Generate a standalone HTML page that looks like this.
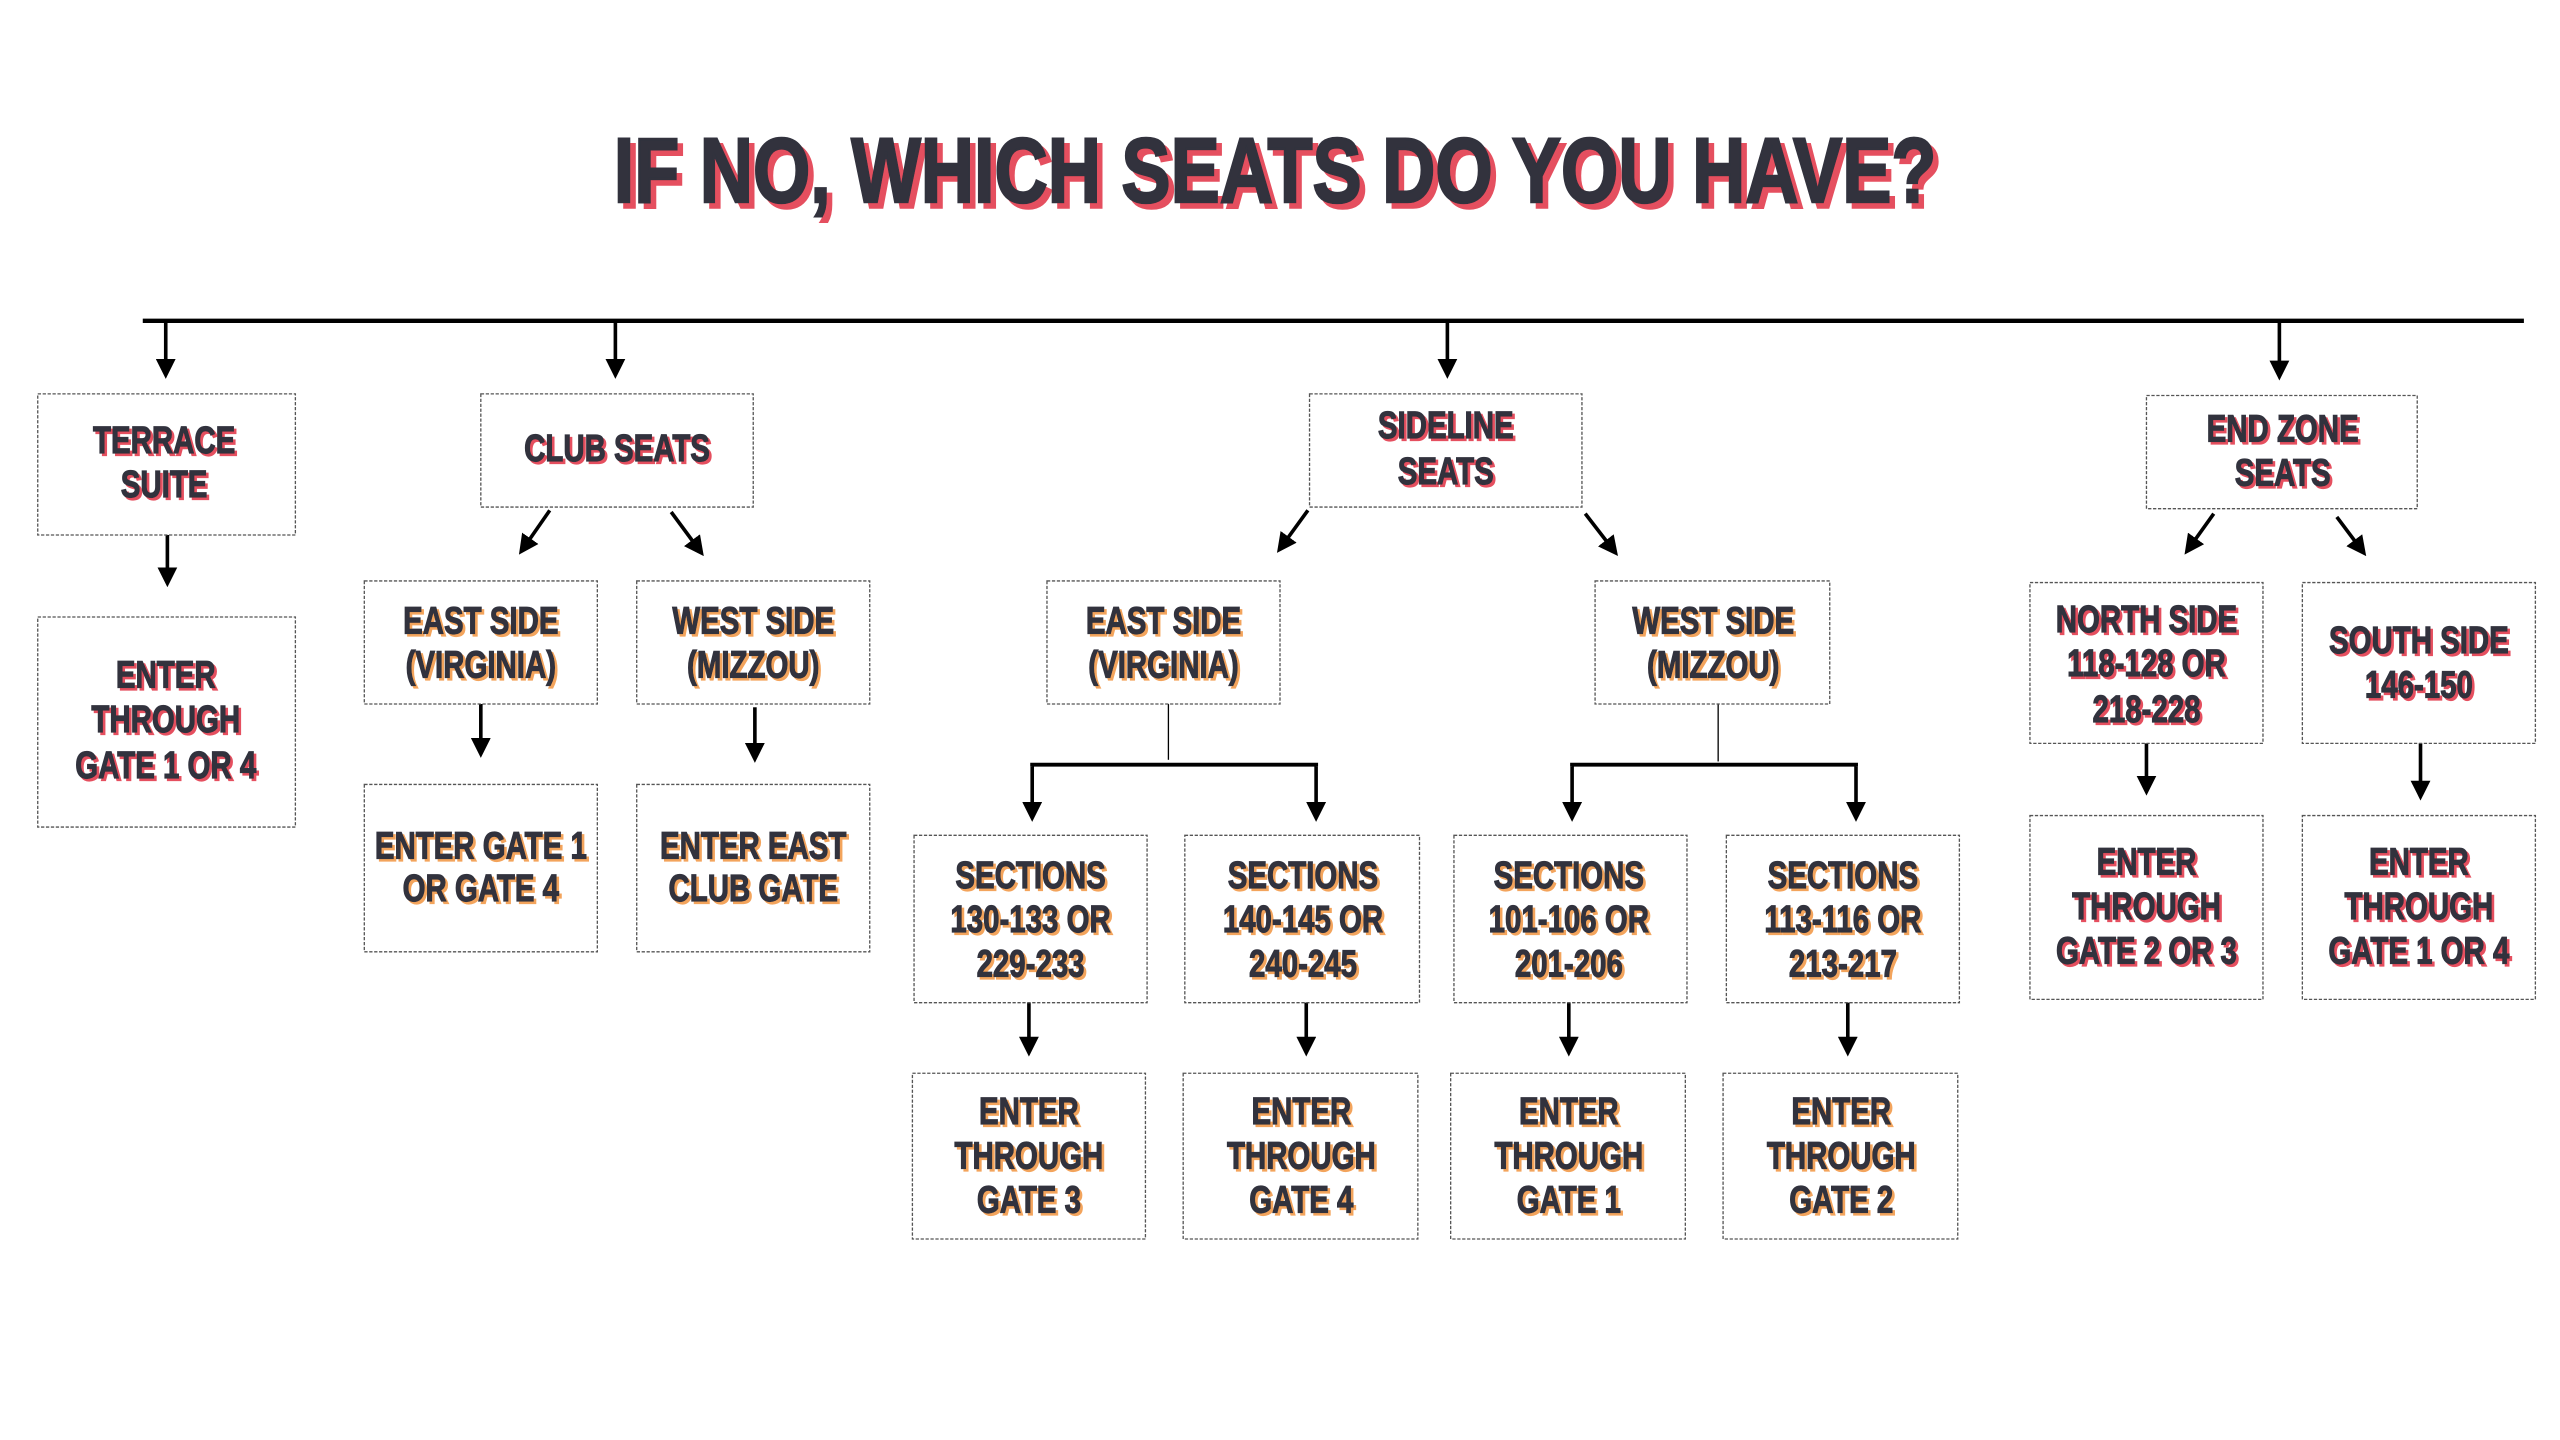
<!DOCTYPE html>
<html><head><meta charset="utf-8"><style>
html,body{margin:0;padding:0;background:#fff;}
svg{display:block;}
text{font-family:"Liberation Sans Narrow","Liberation Sans",sans-serif;font-weight:bold;fill:#30313d;stroke:#30313d;stroke-width:0.7;text-anchor:middle;font-size:23px;}
.r{filter:url(#sr);} .o{filter:url(#so);}
</style></head><body>
<svg width="2560" height="1440" viewBox="0 0 1560 877.5" xmlns="http://www.w3.org/2000/svg">
<defs>
<filter id="sr" x="-10%" y="-30%" width="130%" height="160%"><feOffset dx="1.6" dy="1.6" in="SourceAlpha" result="o"/><feFlood flood-color="#e5505e"/><feComposite in2="o" operator="in" result="s"/><feMerge><feMergeNode in="s"/><feMergeNode in="SourceGraphic"/></feMerge></filter>
<filter id="so" x="-10%" y="-30%" width="130%" height="160%"><feOffset dx="1.6" dy="1.6" in="SourceAlpha" result="o"/><feFlood flood-color="#f3a45c"/><feComposite in2="o" operator="in" result="s"/><feMerge><feMergeNode in="s"/><feMergeNode in="SourceGraphic"/></feMerge></filter>
<filter id="st" x="-5%" y="-30%" width="110%" height="160%"><feOffset dx="3.5" dy="3.5" in="SourceAlpha" result="o"/><feFlood flood-color="#e5505e"/><feComposite in2="o" operator="in" result="s"/><feMerge><feMergeNode in="s"/><feMergeNode in="SourceGraphic"/></feMerge></filter>
<marker id="a" viewBox="0 0 10 10" refX="6" refY="5" markerWidth="5.5" markerHeight="5.5" orient="auto"><path d="M0,0 L10,5 L0,10 z" fill="#000"/></marker>
</defs>
<text x="777" y="123" style="font-size:56px;stroke-width:1.5" textLength="806" lengthAdjust="spacingAndGlyphs" filter="url(#st)">IF NO, WHICH SEATS DO YOU HAVE?</text>

<g stroke="#000" stroke-width="2.6" fill="none">
<line x1="87" y1="195.5" x2="1538" y2="195.5"/>
</g>
<g stroke="#000" stroke-width="2.2" fill="none" marker-end="url(#a)">
<line x1="101" y1="196" x2="101" y2="226"/>
<line x1="375" y1="196" x2="375" y2="226"/>
<line x1="882" y1="196" x2="882" y2="226"/>
<line x1="1389" y1="196" x2="1389" y2="227"/>
<line x1="102" y1="326" x2="102" y2="353"/>
<line x1="335" y1="311" x2="319" y2="334"/>
<line x1="409" y1="312" x2="426" y2="335"/>
<line x1="293" y1="429" x2="293" y2="457"/>
<line x1="460" y1="431" x2="460" y2="460"/>
<line x1="797" y1="311" x2="781" y2="333"/>
<line x1="966" y1="313" x2="983" y2="335"/>
<line x1="1349" y1="313" x2="1334" y2="334"/>
<line x1="1424" y1="315" x2="1439" y2="335"/>
<line x1="1308" y1="453" x2="1308" y2="480"/>
<line x1="1475" y1="453" x2="1475" y2="483"/>
<line x1="629" y1="467" x2="629" y2="496"/>
<line x1="802" y1="467" x2="802" y2="496"/>
<line x1="958" y1="467" x2="958" y2="496"/>
<line x1="1131" y1="467" x2="1131" y2="496"/>
<line x1="627" y1="611" x2="627" y2="639"/>
<line x1="796" y1="611" x2="796" y2="639"/>
<line x1="956" y1="611" x2="956" y2="639"/>
<line x1="1126" y1="611" x2="1126" y2="639"/>
</g>
<g stroke="#000" stroke-width="2.4" fill="none">
<polyline points="629,467 629,466 802,466 802,467"/>
<polyline points="958,467 958,466 1131,466 1131,467"/>
</g>
<g stroke="#000" stroke-width="0.8">
<line x1="712" y1="429" x2="712" y2="463"/>
<line x1="1047" y1="429" x2="1047" y2="464"/>
</g>

<g fill="none" stroke="#555" stroke-width="0.8" stroke-dasharray="2 1">
<rect x="23" y="240" width="157" height="86"/>
<rect x="23" y="376" width="157" height="128"/>
<rect x="293" y="240" width="166" height="69"/>
<rect x="222" y="354" width="142" height="75"/>
<rect x="388" y="354" width="142" height="75"/>
<rect x="222" y="478" width="142" height="102"/>
<rect x="388" y="478" width="142" height="102"/>
<rect x="798" y="240" width="166" height="69"/>
<rect x="638" y="354" width="142" height="75"/>
<rect x="972" y="354" width="143" height="75"/>
<rect x="557" y="509" width="142" height="102"/>
<rect x="722" y="509" width="143" height="102"/>
<rect x="886" y="509" width="142" height="102"/>
<rect x="1052" y="509" width="142" height="102"/>
<rect x="556" y="654" width="142" height="101"/>
<rect x="721" y="654" width="143" height="101"/>
<rect x="884" y="654" width="143" height="101"/>
<rect x="1050" y="654" width="143" height="101"/>
<rect x="1308" y="241" width="165" height="69"/>
<rect x="1237" y="355" width="142" height="98"/>
<rect x="1403" y="355" width="142" height="98"/>
<rect x="1237" y="497" width="142" height="112"/>
<rect x="1403" y="497" width="142" height="112"/>
</g>

<g class="r">
<text transform="translate(100 276) scale(0.78 1)">TERRACE</text><text transform="translate(100 303) scale(0.78 1)">SUITE</text>
<text transform="translate(101 419) scale(0.78 1)">ENTER</text><text transform="translate(101 446) scale(0.78 1)">THROUGH</text><text transform="translate(101 474) scale(0.78 1)">GATE 1 OR 4</text>
<text transform="translate(376 281) scale(0.78 1)">CLUB SEATS</text>
<text transform="translate(881 267) scale(0.78 1)">SIDELINE</text><text transform="translate(881 295) scale(0.78 1)">SEATS</text>
<text transform="translate(1391 269) scale(0.78 1)">END ZONE</text><text transform="translate(1391 296) scale(0.78 1)">SEATS</text>
<text transform="translate(1308 385) scale(0.78 1)">NORTH SIDE</text><text transform="translate(1308 412) scale(0.78 1)">118-128 OR</text><text transform="translate(1308 440) scale(0.78 1)">218-228</text>
<text transform="translate(1474 398) scale(0.78 1)">SOUTH SIDE</text><text transform="translate(1474 425) scale(0.78 1)">146-150</text>
<text transform="translate(1308 533) scale(0.78 1)">ENTER</text><text transform="translate(1308 560) scale(0.78 1)">THROUGH</text><text transform="translate(1308 587) scale(0.78 1)">GATE 2 OR 3</text>
<text transform="translate(1474 533) scale(0.78 1)">ENTER</text><text transform="translate(1474 560) scale(0.78 1)">THROUGH</text><text transform="translate(1474 587) scale(0.78 1)">GATE 1 OR 4</text>
</g>
<g class="o">
<text transform="translate(293 386) scale(0.78 1)">EAST SIDE</text><text transform="translate(293 413) scale(0.78 1)">(VIRGINIA)</text>
<text transform="translate(459 386) scale(0.78 1)">WEST SIDE</text><text transform="translate(459 413) scale(0.78 1)">(MIZZOU)</text>
<text transform="translate(293 523) scale(0.78 1)">ENTER GATE 1</text><text transform="translate(293 549) scale(0.78 1)">OR GATE 4</text>
<text transform="translate(459 523) scale(0.78 1)">ENTER EAST</text><text transform="translate(459 549) scale(0.78 1)">CLUB GATE</text>
<text transform="translate(709 386) scale(0.78 1)">EAST SIDE</text><text transform="translate(709 413) scale(0.78 1)">(VIRGINIA)</text>
<text transform="translate(1044 386) scale(0.78 1)">WEST SIDE</text><text transform="translate(1044 413) scale(0.78 1)">(MIZZOU)</text>
<text transform="translate(628 541) scale(0.78 1)">SECTIONS</text><text transform="translate(628 568) scale(0.78 1)">130-133 OR</text><text transform="translate(628 595) scale(0.78 1)">229-233</text>
<text transform="translate(794 541) scale(0.78 1)">SECTIONS</text><text transform="translate(794 568) scale(0.78 1)">140-145 OR</text><text transform="translate(794 595) scale(0.78 1)">240-245</text>
<text transform="translate(956 541) scale(0.78 1)">SECTIONS</text><text transform="translate(956 568) scale(0.78 1)">101-106 OR</text><text transform="translate(956 595) scale(0.78 1)">201-206</text>
<text transform="translate(1123 541) scale(0.78 1)">SECTIONS</text><text transform="translate(1123 568) scale(0.78 1)">113-116 OR</text><text transform="translate(1123 595) scale(0.78 1)">213-217</text>
<text transform="translate(627 685) scale(0.78 1)">ENTER</text><text transform="translate(627 712) scale(0.78 1)">THROUGH</text><text transform="translate(627 739) scale(0.78 1)">GATE 3</text>
<text transform="translate(793 685) scale(0.78 1)">ENTER</text><text transform="translate(793 712) scale(0.78 1)">THROUGH</text><text transform="translate(793 739) scale(0.78 1)">GATE 4</text>
<text transform="translate(956 685) scale(0.78 1)">ENTER</text><text transform="translate(956 712) scale(0.78 1)">THROUGH</text><text transform="translate(956 739) scale(0.78 1)">GATE 1</text>
<text transform="translate(1122 685) scale(0.78 1)">ENTER</text><text transform="translate(1122 712) scale(0.78 1)">THROUGH</text><text transform="translate(1122 739) scale(0.78 1)">GATE 2</text>
</g>
</svg>
</body></html>
